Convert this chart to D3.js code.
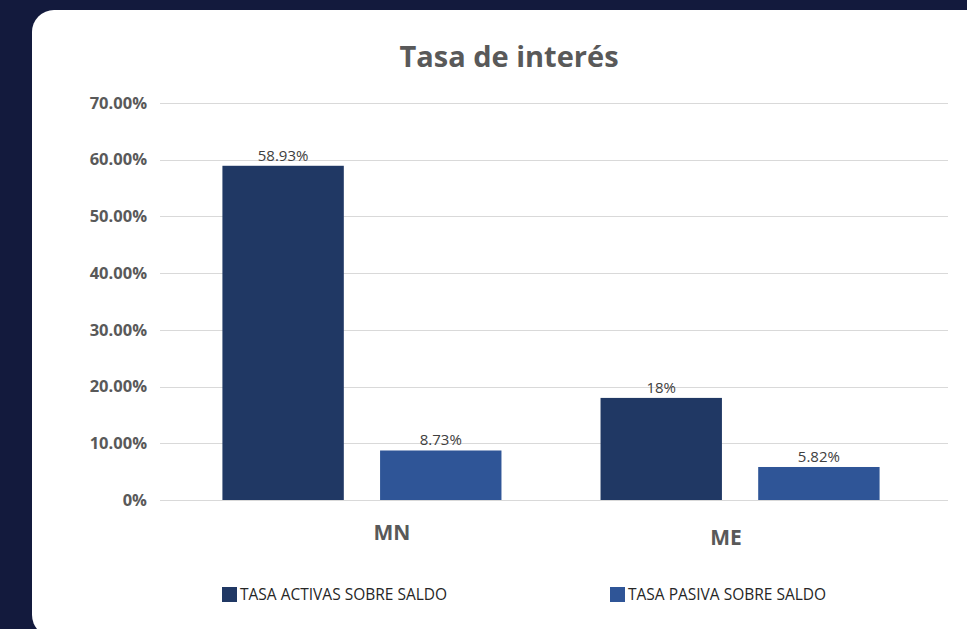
<!DOCTYPE html>
<html>
<head>
<meta charset="utf-8">
<script src="https://cdn.jsdelivr.net/npm/d3@7"></script>
<style>
  html, body { margin: 0; padding: 0; background: #131a3d; overflow: hidden; }
  svg { display: block; }
</style>
</head>
<body>
<svg id="chart" width="967" height="629"></svg>
<script>
// Interest rates by currency (MN = moneda nacional, ME = moneda extranjera)
const categories = ["MN", "ME"];
const seriesNames = ["TASA ACTIVAS SOBRE SALDO", "TASA PASIVA SOBRE SALDO"];
const activas = [0.5893, 0.18];
const pasivas = [0.0873, 0.0582];
const valueLabels = [["58.93%", "18%"], ["8.73%", "5.82%"]];
const tickValues = [0, 0.1, 0.2, 0.3, 0.4, 0.5, 0.6, 0.7];
const tickLabels = ["0%", "10.00%", "20.00%", "30.00%", "40.00%", "50.00%", "60.00%", "70.00%"];
const colors = ["#203864", "#2f5597"];

const svg = d3.select("#chart");

// White card
svg.append("rect")
  .attr("x", 32).attr("y", 10)
  .attr("width", 962).attr("height", 627)
  .attr("rx", 22).attr("ry", 22)
  .attr("fill", "#ffffff");

// Title
svg.append("text")
  .attr("x", 509).attr("y", 67)
  .attr("text-anchor", "middle")
  .attr("font-family", "'Open Sans', sans-serif")
  .attr("font-weight", 700)
  .attr("font-size", 29)
  .attr("fill", "#595959")
  .text("Tasa de interés");

const plotLeft = 160, plotRight = 948;
const y = d3.scaleLinear().domain([0, 0.7]).range([500, 103]);

const x0 = d3.scaleBand().domain(categories)
  .range([plotLeft - 3, plotRight - 3])
  .paddingInner(0.262).paddingOuter(0.173);
const x1 = d3.scaleBand().domain([0, 1])
  .range([0, x0.bandwidth()])
  .paddingInner(0.23).paddingOuter(0);

// Gridlines
svg.append("g").selectAll("line")
  .data(tickValues)
  .join("line")
  .attr("x1", plotLeft).attr("x2", plotRight)
  .attr("y1", d => Math.round(y(d)) + 0.5)
  .attr("y2", d => Math.round(y(d)) + 0.5)
  .attr("stroke", "#d9d9d9").attr("stroke-width", 1);

// Y axis tick labels
const yAxis = d3.axisLeft(y)
  .tickValues(tickValues)
  .tickFormat((d, i) => tickLabels[i])
  .tickSize(0).tickPadding(0);
const yg = svg.append("g").attr("transform", "translate(147,0)").call(yAxis);
yg.select(".domain").remove();
yg.selectAll("text")
  .attr("font-family", "'Open Sans', sans-serif")
  .attr("font-weight", 700)
  .attr("font-size", 16.5)
  .attr("fill", "#595959");

// Bars
const series = [activas, pasivas];
const groups = svg.append("g").selectAll("g")
  .data(categories)
  .join("g")
  .attr("transform", d => `translate(${x0(d)},0)`);

const cells = (c, ci) => series.map((s, si) => ({ si, v: s[ci], label: valueLabels[si][ci] }));

groups.selectAll("rect")
  .data(cells)
  .join("rect")
  .attr("x", d => x1(d.si))
  .attr("width", x1.bandwidth())
  .attr("y", d => y(d.v))
  .attr("height", d => y(0) - y(d.v))
  .attr("fill", d => colors[d.si]);

groups.selectAll("text.val")
  .data(cells)
  .join("text")
  .attr("class", "val")
  .attr("x", d => x1(d.si) + x1.bandwidth() / 2)
  .attr("y", d => y(d.v) - 5)
  .attr("text-anchor", "middle")
  .attr("font-family", "'Open Sans', sans-serif")
  .attr("font-size", 15)
  .attr("fill", "#404040")
  .text(d => d.label);

// Category labels (offset slightly from band centres)
const catDx = [30, -14];
const catDy = [540, 545];
svg.append("g").selectAll("text")
  .data(categories)
  .join("text")
  .attr("x", (d, i) => x0(d) + x0.bandwidth() / 2 + catDx[i])
  .attr("y", (d, i) => catDy[i])
  .attr("text-anchor", "middle")
  .attr("font-family", "'Open Sans', sans-serif")
  .attr("font-weight", 700)
  .attr("font-size", 21)
  .attr("fill", "#595959")
  .text(d => d);

// Legend
const legendX = [222, 610];
const legend = svg.append("g").selectAll("g")
  .data(seriesNames)
  .join("g")
  .attr("transform", (d, i) => `translate(${legendX[i]},587)`);
legend.append("rect")
  .attr("width", 15).attr("height", 15)
  .attr("fill", (d, i) => colors[i]);
legend.append("text")
  .attr("x", 18).attr("y", 13)
  .attr("font-family", "'Open Sans', sans-serif")
  .attr("font-size", 15.5)
  .attr("fill", "#262626")
  .text(d => d);
</script>
</body>
</html>
